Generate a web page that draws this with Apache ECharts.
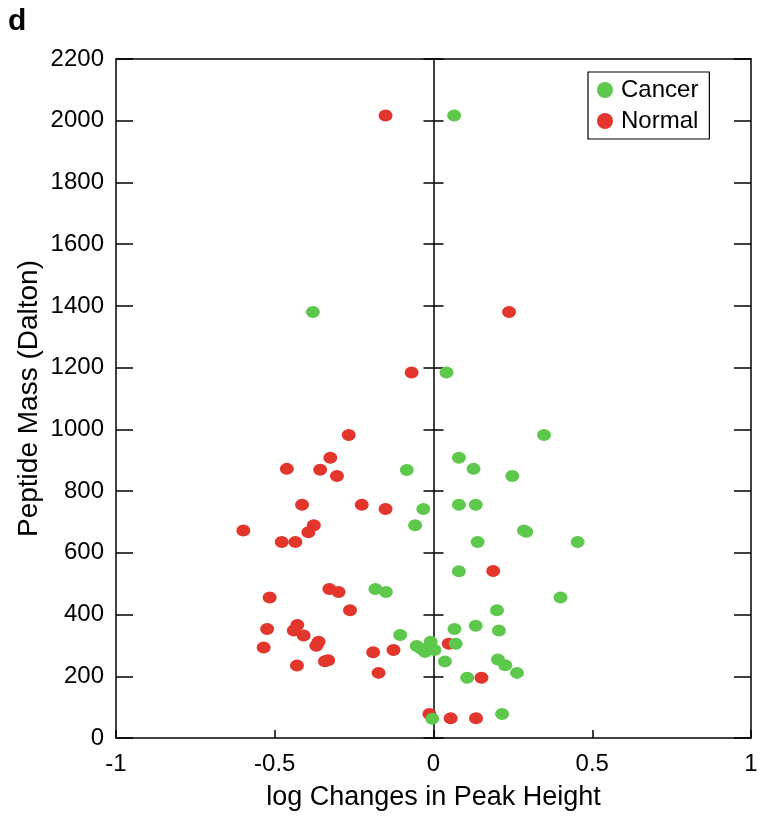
<!DOCTYPE html>
<html>
<head>
<meta charset="utf-8">
<script src="https://cdn.jsdelivr.net/npm/echarts@6/dist/echarts.min.js"></script>
<style>html,body{margin:0;padding:0;background:#fff;}#c{width:762px;height:821px;}</style>
</head>
<body>
<div id="c"></div>
<script>
var xTicks = [-1, -0.5, 0, 0.5, 1];
var yTicks = [0, 200, 400, 600, 800, 1000, 1200, 1400, 1600, 1800, 2000, 2200];
var seriesNames = ['Cancer', 'Normal'];

var cancerLogChange = [0.065, -0.38, 0.041, 0.348, 0.08, 0.126, -0.084, 0.248, 0.08, 0.133,
  -0.032, -0.058, 0.285, 0.292, 0.139, 0.454, 0.08, -0.183, -0.15, 0.40,
  0.20, -0.105, 0.066, 0.133, 0.206, -0.009, -0.053, -0.04, -0.027, 0.003,
  0.07, 0.036, 0.203, 0.226, 0.263, 0.106, 0.216, -0.004];
var cancerMass = [2017, 1380, 1184, 982, 908, 872, 868, 849, 756, 756,
  742, 689, 672, 668, 635, 635, 540, 483, 473, 455,
  414, 334, 353, 364, 348, 312, 298, 290, 279, 285,
  305, 248, 254, 236, 211, 195, 78, 62];

var normalLogChange = [-0.151, 0.238, -0.069, -0.267, -0.325, -0.462, -0.357, -0.304, -0.414, -0.226,
  -0.151, -0.599, -0.377, -0.394, -0.478, -0.435, 0.188, -0.328, -0.299, -0.516,
  -0.263, -0.524, -0.429, -0.44, -0.409, -0.362, -0.369, -0.535, -0.19, -0.126,
  -0.332, -0.342, -0.43, -0.173, 0.048, 0.151, -0.013, 0.054, 0.134];
var normalMass = [2017, 1380, 1184, 982, 908, 872, 869, 849, 756, 756,
  742, 672, 689, 667, 635, 635, 541, 483, 473, 455,
  414, 353, 366, 348, 332, 312, 299, 293, 278, 285,
  252, 249, 235, 211, 305, 195, 78, 64, 64];

function pairs(xs, ys) { return xs.map(function (x, i) { return [x, ys[i]]; }); }

var FONT = 'Liberation Sans, Arial, Helvetica, sans-serif';
var black = '#000';
var chart = echarts.init(document.getElementById('c'), null, { renderer: 'canvas' });

var option = {
  backgroundColor: '#fff',
  animation: false,
  graphic: [{ type: 'text', left: 8, top: 7, style: { text: 'd', font: 'bold 30px ' + FONT, fill: black } }],
  grid: { left: 116, right: 11, top: 59, bottom: 83, containLabel: false },
  legend: {
    data: seriesNames,
    orient: 'vertical',
    left: 588, top: 72,
    borderColor: black, borderWidth: 1.2,
    padding: [6, 11, 6, 9],
    itemGap: 7,
    itemWidth: 16, itemHeight: 17,
    icon: 'circle',
    textStyle: { fontFamily: FONT, fontSize: 24, color: black, padding: [0, 0, 0, 3] }
  },
  xAxis: [{
    type: 'value', position: 'bottom', min: -1, max: 1, interval: 0.5,
    axisLine: { show: true, onZero: false, lineStyle: { color: black, width: 1.5 } },
    axisTick: { show: true, inside: true, length: 8, lineStyle: { color: black, width: 1.5 } },
    axisLabel: { fontFamily: FONT, fontSize: 24, color: black, margin: 14,
      formatter: function (v) { return xTicks.indexOf(v) >= 0 ? String(v) : ''; } },
    splitLine: { show: false },
    name: 'log Changes in Peak Height', nameLocation: 'middle', nameGap: 46, nameMoveOverlap: false,
    nameTextStyle: { fontFamily: FONT, fontSize: 27, color: black }
  }, {
    type: 'value', position: 'top', min: -1, max: 1, interval: 0.5,
    axisLine: { show: true, onZero: false, lineStyle: { color: black, width: 1.5 } },
    axisTick: { show: false }, axisLabel: { show: false }, splitLine: { show: false }
  }],
  yAxis: [{
    type: 'value', position: 'left', min: 0, max: 2200, interval: 200,
    axisLine: { show: true, onZero: false, lineStyle: { color: black, width: 1.5 } },
    axisTick: { show: true, inside: true, length: 17, lineStyle: { color: black, width: 1.5 } },
    axisLabel: { fontFamily: FONT, fontSize: 24, color: black, margin: 12,
      formatter: function (v) { return yTicks.indexOf(v) >= 0 ? String(v) : ''; } },
    splitLine: { show: false },
    name: 'Peptide Mass (Dalton)', nameLocation: 'middle', nameGap: 73, nameRotate: 90, nameMoveOverlap: false,
    nameTextStyle: { fontFamily: FONT, fontSize: 28, color: black }
  }, {
    type: 'value', position: 'right', min: 0, max: 2200, interval: 200,
    axisLine: { show: true, onZero: false, lineStyle: { color: black, width: 1.5 } },
    axisTick: { show: true, inside: true, length: 17, lineStyle: { color: black, width: 1.5 } },
    axisLabel: { show: false }, splitLine: { show: false }
  }, {
    type: 'value', position: 'left', min: 0, max: 2200, interval: 200,
    axisLine: { show: true, onZero: true, onZeroAxisIndex: 0, lineStyle: { color: black, width: 1.5 } },
    axisTick: { show: true, inside: false, length: 10, lineStyle: { color: black, width: 1.5 } },
    axisLabel: { show: false }, splitLine: { show: false }
  }, {
    type: 'value', position: 'left', min: 0, max: 2200, interval: 200,
    axisLine: { show: false, onZero: true, onZeroAxisIndex: 0, lineStyle: { color: black, width: 1.5 } },
    axisTick: { show: true, inside: true, length: 10, lineStyle: { color: black, width: 1.5 } },
    axisLabel: { show: false }, splitLine: { show: false }
  }],
  series: [{
    name: 'Normal', type: 'scatter', xAxisIndex: 0, yAxisIndex: 0,
    symbol: 'circle', symbolSize: [14, 12],
    itemStyle: { color: '#E2352B', opacity: 1 },
    data: pairs(normalLogChange, normalMass), z: 3
  }, {
    name: 'Cancer', type: 'scatter', xAxisIndex: 0, yAxisIndex: 0,
    symbol: 'circle', symbolSize: [14, 12],
    itemStyle: { color: '#5DC84C', opacity: 1 },
    data: pairs(cancerLogChange, cancerMass), z: 3
  }]
};
chart.setOption(option);
</script>
</body>
</html>
